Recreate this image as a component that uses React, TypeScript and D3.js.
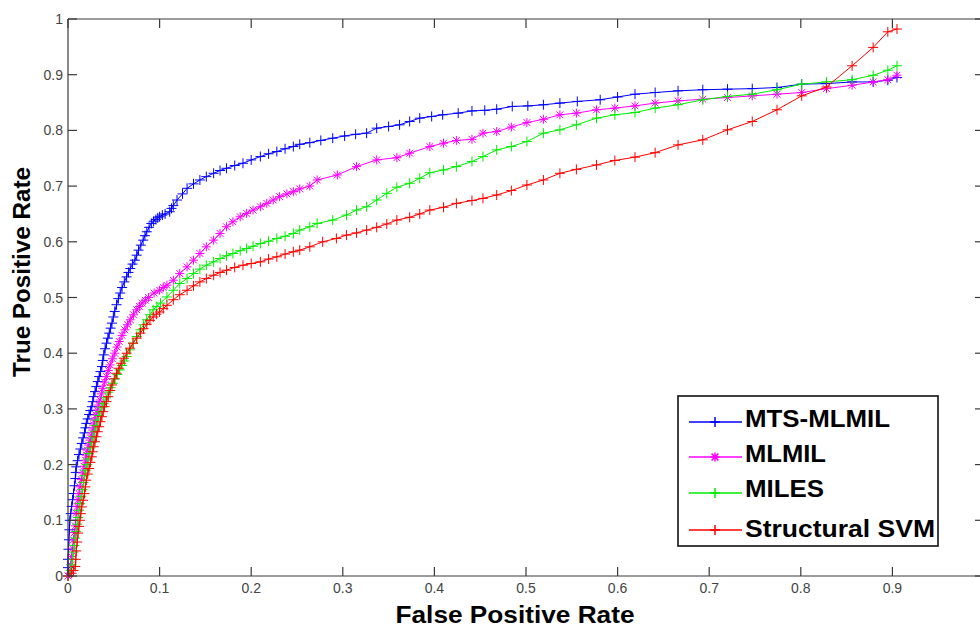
import React from 'react';
import * as d3 from 'd3';

// ---------- data ----------
const xTickValues = [0, 0.1, 0.2, 0.3, 0.4, 0.5, 0.6, 0.7, 0.8, 0.9, 1];
const xTickLabels = ['0', '0.1', '0.2', '0.3', '0.4', '0.5', '0.6', '0.7', '0.8', '0.9', '1'];
const yTickValues = [0, 0.1, 0.2, 0.3, 0.4, 0.5, 0.6, 0.7, 0.8, 0.9, 1];
const yTickLabels = ['0', '0.1', '0.2', '0.3', '0.4', '0.5', '0.6', '0.7', '0.8', '0.9', '1'];

const seriesNames = ['MTS-MLMIL', 'MLMIL', 'MILES', 'Structural SVM'];
const seriesColors = ['#0000ff', '#ff00ff', '#00ee00', '#ff0000'];
const seriesMarkers = ['plus', 'star', 'plus', 'plus'];

const mtsMlmil: [number, number][] = [
  [0, 0], [0, 0.015], [0, 0.03], [0.0005, 0.048], [0.001, 0.065], [0.0015, 0.083], [0.002, 0.1],
  [0.003, 0.112], [0.004, 0.125], [0.005, 0.137], [0.006, 0.148], [0.007, 0.162], [0.008, 0.175],
  [0.0085, 0.186], [0.009, 0.196], [0.0105, 0.207], [0.012, 0.218], [0.0135, 0.228], [0.015, 0.238],
  [0.0165, 0.248], [0.018, 0.257], [0.019, 0.266], [0.02, 0.274], [0.0215, 0.282], [0.023, 0.29],
  [0.0245, 0.297], [0.026, 0.304], [0.027, 0.313], [0.028, 0.322], [0.0295, 0.331], [0.031, 0.34],
  [0.0325, 0.349], [0.034, 0.358], [0.0355, 0.367], [0.037, 0.376], [0.038, 0.387], [0.039, 0.397],
  [0.0405, 0.408], [0.042, 0.418], [0.0435, 0.427], [0.045, 0.436], [0.0465, 0.445], [0.048, 0.454],
  [0.0495, 0.465], [0.051, 0.475], [0.053, 0.487], [0.055, 0.498], [0.057, 0.508], [0.059, 0.518],
  [0.0615, 0.528], [0.064, 0.537], [0.066, 0.545], [0.068, 0.552], [0.0705, 0.56], [0.073, 0.567],
  [0.075, 0.576], [0.077, 0.585], [0.0795, 0.594], [0.082, 0.603], [0.084, 0.611], [0.086, 0.618],
  [0.0885, 0.626], [0.091, 0.633], [0.0935, 0.637], [0.096, 0.64], [0.098, 0.643], [0.1, 0.645],
  [0.103, 0.648], [0.106, 0.65], [0.111, 0.654], [0.113, 0.66], [0.115, 0.665],
  [0.119, 0.675], [0.125, 0.686], [0.13, 0.696], [0.137, 0.704], [0.144, 0.711], [0.151, 0.717],
  [0.159, 0.723], [0.166, 0.728], [0.173, 0.732], [0.182, 0.737], [0.191, 0.741], [0.2, 0.747],
  [0.21, 0.753], [0.219, 0.758], [0.228, 0.762], [0.237, 0.767], [0.246, 0.771], [0.253, 0.775],
  [0.264, 0.778], [0.276, 0.782], [0.289, 0.786], [0.302, 0.79], [0.314, 0.793], [0.326, 0.795],
  [0.337, 0.804], [0.35, 0.807], [0.362, 0.81], [0.373, 0.816], [0.384, 0.822], [0.397, 0.825],
  [0.409, 0.828], [0.426, 0.831], [0.441, 0.835], [0.455, 0.836], [0.468, 0.838], [0.485, 0.843],
  [0.502, 0.844], [0.519, 0.846], [0.537, 0.849], [0.556, 0.852], [0.581, 0.855], [0.6, 0.86],
  [0.619, 0.865], [0.641, 0.868], [0.666, 0.871], [0.693, 0.873], [0.72, 0.874], [0.747, 0.875],
  [0.774, 0.877], [0.801, 0.883], [0.828, 0.884], [0.856, 0.887], [0.879, 0.887], [0.895, 0.89],
  [0.905, 0.895],
];

const mlmil: [number, number][] = [
  [0, 0], [0.002, 0.005], [0.003, 0.02], [0.004, 0.035], [0.005, 0.05], [0.006, 0.065],
  [0.007, 0.078], [0.008, 0.09], [0.009, 0.113], [0.01, 0.125], [0.011, 0.137], [0.012, 0.148],
  [0.013, 0.16], [0.0145, 0.173], [0.016, 0.185], [0.0175, 0.197], [0.019, 0.208], [0.02, 0.217],
  [0.021, 0.226], [0.0225, 0.235], [0.024, 0.244], [0.0255, 0.253], [0.027, 0.262], [0.028, 0.271],
  [0.029, 0.28], [0.0305, 0.289], [0.032, 0.298], [0.0335, 0.307], [0.035, 0.316], [0.0365, 0.327],
  [0.038, 0.337], [0.04, 0.348], [0.042, 0.358], [0.044, 0.369], [0.046, 0.379], [0.0485, 0.39],
  [0.051, 0.4], [0.0535, 0.411], [0.056, 0.421], [0.059, 0.432], [0.062, 0.442], [0.065, 0.451],
  [0.068, 0.46], [0.0715, 0.469], [0.075, 0.478], [0.078, 0.484], [0.081, 0.49], [0.0845, 0.495],
  [0.088, 0.5], [0.094, 0.508], [0.1, 0.513], [0.104, 0.518], [0.108, 0.522], [0.115, 0.531],
  [0.122, 0.543], [0.13, 0.555], [0.137, 0.567], [0.144, 0.579], [0.151, 0.591], [0.159, 0.603],
  [0.166, 0.615], [0.173, 0.627], [0.18, 0.636], [0.188, 0.645], [0.195, 0.651], [0.202, 0.657],
  [0.21, 0.663], [0.217, 0.669], [0.224, 0.675], [0.231, 0.681], [0.239, 0.686], [0.246, 0.69],
  [0.253, 0.695], [0.264, 0.7], [0.272, 0.711], [0.294, 0.72], [0.315, 0.735], [0.337, 0.747],
  [0.359, 0.751], [0.373, 0.759], [0.395, 0.771], [0.41, 0.777], [0.424, 0.782], [0.441, 0.784],
  [0.453, 0.795], [0.468, 0.798], [0.484, 0.806], [0.501, 0.814], [0.519, 0.82], [0.537, 0.828],
  [0.555, 0.831], [0.577, 0.837], [0.597, 0.84], [0.619, 0.844], [0.641, 0.849], [0.666, 0.853],
  [0.693, 0.856], [0.72, 0.859], [0.747, 0.862], [0.774, 0.865], [0.801, 0.868], [0.828, 0.875],
  [0.856, 0.881], [0.879, 0.887], [0.895, 0.891], [0.905, 0.899],
];

const miles: [number, number][] = [
  [0, 0], [0.003, 0.01], [0.004, 0.02], [0.005, 0.03], [0.006, 0.043], [0.007, 0.055],
  [0.008, 0.068], [0.009, 0.08], [0.01, 0.093], [0.011, 0.105], [0.012, 0.118], [0.013, 0.13],
  [0.0145, 0.143], [0.016, 0.155], [0.017, 0.168], [0.018, 0.18], [0.0195, 0.19], [0.021, 0.2],
  [0.022, 0.21], [0.023, 0.22], [0.0245, 0.23], [0.026, 0.24], [0.0275, 0.25], [0.029, 0.26],
  [0.0305, 0.27], [0.032, 0.28], [0.0335, 0.288], [0.035, 0.295], [0.037, 0.303], [0.039, 0.31],
  [0.0415, 0.32], [0.044, 0.33], [0.0465, 0.338], [0.049, 0.346], [0.0515, 0.354], [0.054, 0.362],
  [0.0565, 0.37], [0.059, 0.378], [0.0615, 0.386], [0.064, 0.394], [0.0675, 0.406], [0.071, 0.418],
  [0.075, 0.43], [0.079, 0.442], [0.0825, 0.451], [0.086, 0.46], [0.0895, 0.469], [0.093, 0.478],
  [0.097, 0.484], [0.101, 0.49], [0.108, 0.501], [0.115, 0.513], [0.122, 0.525], [0.13, 0.534],
  [0.137, 0.543], [0.144, 0.551], [0.151, 0.558], [0.159, 0.564], [0.166, 0.57], [0.173, 0.575],
  [0.18, 0.579], [0.188, 0.584], [0.195, 0.588], [0.202, 0.592], [0.21, 0.597], [0.219, 0.601],
  [0.228, 0.606], [0.237, 0.61], [0.246, 0.615], [0.253, 0.621], [0.264, 0.627], [0.272, 0.633],
  [0.289, 0.639], [0.304, 0.648], [0.315, 0.657], [0.326, 0.663], [0.337, 0.675], [0.348, 0.687],
  [0.359, 0.698], [0.373, 0.705], [0.384, 0.714], [0.395, 0.724], [0.41, 0.729], [0.424, 0.735],
  [0.441, 0.744], [0.453, 0.753], [0.468, 0.765], [0.484, 0.771], [0.501, 0.78], [0.519, 0.795],
  [0.537, 0.801], [0.555, 0.81], [0.577, 0.822], [0.597, 0.828], [0.619, 0.832], [0.641, 0.84],
  [0.666, 0.846], [0.693, 0.855], [0.72, 0.861], [0.747, 0.865], [0.774, 0.873], [0.801, 0.883],
  [0.828, 0.887], [0.856, 0.891], [0.879, 0.899], [0.895, 0.908], [0.905, 0.916],
];

const structuralSvm: [number, number][] = [
  [0, 0], [0.004, 0.005], [0.006, 0.01], [0.008, 0.017], [0.0085, 0.03], [0.009, 0.045],
  [0.01, 0.061], [0.011, 0.077], [0.012, 0.089], [0.013, 0.1], [0.014, 0.112], [0.015, 0.124],
  [0.0165, 0.136], [0.018, 0.148], [0.019, 0.16], [0.02, 0.172], [0.0215, 0.183], [0.023, 0.193],
  [0.0245, 0.204], [0.026, 0.214], [0.027, 0.223], [0.028, 0.232], [0.0295, 0.241], [0.031, 0.25],
  [0.0325, 0.259], [0.034, 0.268], [0.0355, 0.277], [0.037, 0.286], [0.0385, 0.295], [0.04, 0.304],
  [0.042, 0.313], [0.044, 0.322], [0.046, 0.333], [0.048, 0.343], [0.0505, 0.354], [0.053, 0.364],
  [0.0555, 0.373], [0.058, 0.382], [0.061, 0.391], [0.064, 0.4], [0.0675, 0.409], [0.071, 0.418],
  [0.075, 0.427], [0.079, 0.436], [0.0825, 0.444], [0.086, 0.452], [0.0895, 0.459], [0.093, 0.465],
  [0.0965, 0.47], [0.1, 0.474], [0.104, 0.48], [0.108, 0.486], [0.115, 0.496], [0.122, 0.505],
  [0.13, 0.513], [0.137, 0.521], [0.144, 0.528], [0.151, 0.534], [0.159, 0.54], [0.166, 0.545],
  [0.173, 0.549], [0.182, 0.554], [0.191, 0.558], [0.2, 0.561], [0.21, 0.564], [0.219, 0.569],
  [0.228, 0.573], [0.237, 0.578], [0.246, 0.582], [0.253, 0.585], [0.264, 0.591], [0.278, 0.6],
  [0.293, 0.606], [0.304, 0.612], [0.315, 0.616], [0.326, 0.621], [0.337, 0.626], [0.348, 0.632],
  [0.359, 0.639], [0.373, 0.644], [0.384, 0.65], [0.395, 0.657], [0.41, 0.662], [0.424, 0.669],
  [0.441, 0.674], [0.453, 0.678], [0.468, 0.684], [0.484, 0.692], [0.501, 0.702], [0.519, 0.711],
  [0.537, 0.723], [0.555, 0.73], [0.577, 0.738], [0.597, 0.746], [0.619, 0.752], [0.641, 0.76],
  [0.666, 0.774], [0.693, 0.783], [0.72, 0.801], [0.747, 0.816], [0.774, 0.837], [0.801, 0.862],
  [0.828, 0.878], [0.856, 0.916], [0.879, 0.949], [0.895, 0.977], [0.905, 0.982],
];

const allSeries = [mtsMlmil, mlmil, miles, structuralSvm];

// ---------- layout ----------
const W = 980;
const H = 627;
const plotLeft = 68;
const plotRight = 984;
const plotTop = 19;
const plotBottom = 576;
const tickLen = 9;
const font = '"Liberation Sans", Arial, Helvetica, sans-serif';

function markerPath(kind: string, px: number, py: number): string {
  if (kind === 'star') {
    const a = 4.5;
    const d = 3.4;
    return `M${px - a},${py}h${2 * a}M${px},${py - a}v${2 * a}M${px - d},${py - d}l${2 * d},${2 * d}M${px - d},${py + d}l${2 * d},${-2 * d}`;
  }
  const a = 5;
  return `M${px - a},${py}h${2 * a}M${px},${py - a}v${2 * a}`;
}

export default function App() {
  const x = d3.scaleLinear().domain([0, 1]).range([plotLeft, plotRight]);
  const y = d3.scaleLinear().domain([0, 1]).range([plotBottom, plotTop]);
  const line = d3
    .line<[number, number]>()
    .x((d) => x(d[0]))
    .y((d) => y(d[1]));

  const legendLeft = 678;
  const legendRight = 938;
  const legendTop = 396;
  const legendBottom = 546;
  const legendLineY = [422, 457, 493, 530];
  const legendTextY = [427, 462, 497, 537];
  const legendTextLen = [145, 81, 79, 190];

  return (
    <svg
      width={W}
      height={H}
      viewBox={`0 0 ${W} ${H}`}
      style={{ position: 'absolute', left: 0, top: 0, background: '#fff' }}
    >
      <rect x={0} y={0} width={W} height={H} fill="#fff" />

      {/* series */}
      {allSeries.map((s, i) => (
        <g key={seriesNames[i]}>
          <path d={line(s) || ''} fill="none" stroke={seriesColors[i]} strokeWidth={1} />
          <path
            d={s.map((p) => markerPath(seriesMarkers[i], x(p[0]), y(p[1]))).join('')}
            fill="none"
            stroke={seriesColors[i]}
            strokeWidth={1}
          />
        </g>
      ))}

      {/* axes box */}
      <g stroke="#3a3a3a" strokeWidth={1.2} fill="none">
        <line x1={plotLeft} y1={plotBottom} x2={plotRight} y2={plotBottom} />
        <line x1={plotLeft} y1={plotTop} x2={plotRight} y2={plotTop} />
        <line x1={plotLeft} y1={plotTop} x2={plotLeft} y2={plotBottom} />
        <line x1={plotRight} y1={plotTop} x2={plotRight} y2={plotBottom} />
        {xTickValues.map((v) => (
          <g key={'xt' + v}>
            <line x1={x(v)} x2={x(v)} y1={plotBottom} y2={plotBottom - tickLen} />
            <line x1={x(v)} x2={x(v)} y1={plotTop} y2={plotTop + tickLen} />
          </g>
        ))}
        {yTickValues.map((v) => (
          <g key={'yt' + v}>
            <line x1={plotLeft} x2={plotLeft + tickLen} y1={y(v)} y2={y(v)} />
            <line x1={plotRight} x2={plotRight - tickLen} y1={y(v)} y2={y(v)} />
          </g>
        ))}
      </g>

      {/* tick labels */}
      <g fontFamily={font} fontSize={14} fill="#444">
        {xTickValues.map((v, i) => (
          <text key={'xl' + v} x={x(v)} y={plotBottom + 17} textAnchor="middle">
            {xTickLabels[i]}
          </text>
        ))}
        {yTickValues.map((v, i) => (
          <text key={'yl' + v} x={plotLeft - 5} y={y(v)} dy="0.36em" textAnchor="end">
            {yTickLabels[i]}
          </text>
        ))}
      </g>

      {/* axis titles */}
      <text
        x={515}
        y={623}
        textAnchor="middle"
        fontFamily={font}
        fontWeight="bold"
        fontSize={24}
        fill="#000"
        textLength={239}
        lengthAdjust="spacingAndGlyphs"
      >
        False Positive Rate
      </text>
      <text
        transform="translate(30,272) rotate(-90)"
        textAnchor="middle"
        fontFamily={font}
        fontWeight="bold"
        fontSize={24}
        fill="#000"
        textLength={210}
        lengthAdjust="spacingAndGlyphs"
      >
        True Positive Rate
      </text>

      {/* legend */}
      <rect
        x={legendLeft}
        y={legendTop}
        width={legendRight - legendLeft}
        height={legendBottom - legendTop}
        fill="#fff"
        stroke="#111"
        strokeWidth={1.6}
      />
      {seriesNames.map((name, i) => (
        <g key={'lg' + name}>
          <line x1={689} x2={742} y1={legendLineY[i]} y2={legendLineY[i]} stroke={seriesColors[i]} strokeWidth={1.5} />
          <path d={markerPath(seriesMarkers[i], 715, legendLineY[i])} stroke={seriesColors[i]} strokeWidth={1.5} fill="none" />
          <text
            x={745}
            y={legendTextY[i]}
            fontFamily={font}
            fontWeight="bold"
            fontSize={24}
            fill="#000"
            textLength={legendTextLen[i]}
            lengthAdjust="spacingAndGlyphs"
          >
            {name}
          </text>
        </g>
      ))}
    </svg>
  );
}
